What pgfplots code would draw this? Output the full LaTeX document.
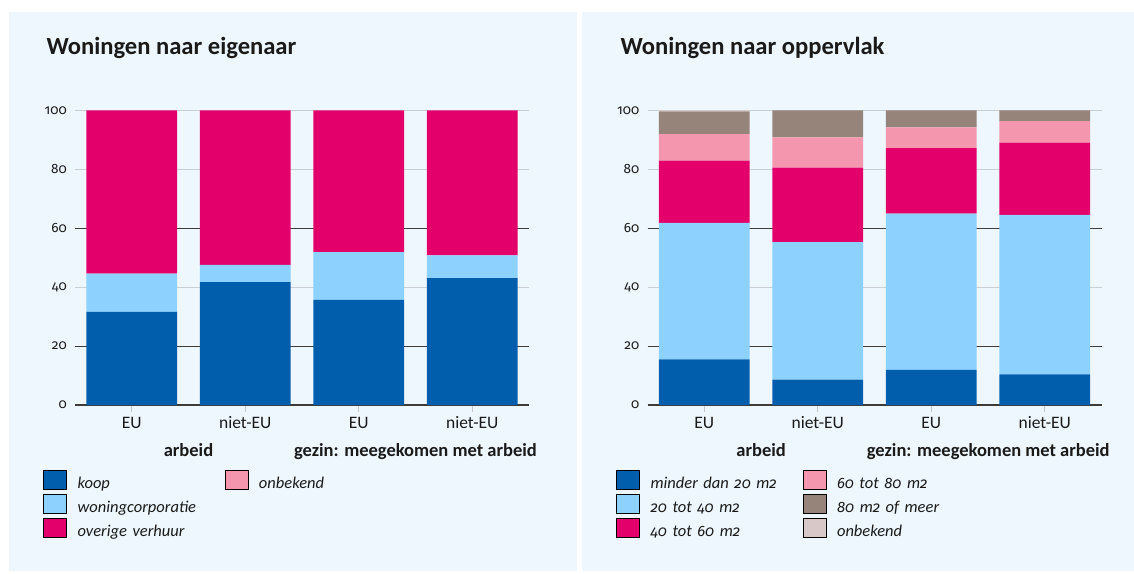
\documentclass[border=0pt]{standalone}
\usepackage{fontspec}
\setmainfont{Carlito}
\newfontfamily\numfont{Fira Sans}[Numbers=OldStyle]
\newcommand{\on}[1]{{\numfont\fontsize{15}{19}\selectfont #1}}
\usepackage{pgfplots}
\pgfplotsset{compat=1.18}
\definecolor{cKoop}{HTML}{005EAD}
\definecolor{cCorp}{HTML}{8DD1FE}
\definecolor{cOver}{HTML}{E4006B}
\definecolor{cOnb}{HTML}{F497AE}
\definecolor{cBrown}{HTML}{968379}
\definecolor{cOnbR}{HTML}{D8C9C8}
\definecolor{bgc}{HTML}{EEF7FE}
\definecolor{txt}{HTML}{1A1A1A}
\definecolor{gridL}{HTML}{C9CFD5}
\definecolor{gridM}{HTML}{9A9EA2}
\definecolor{gridD}{HTML}{3C3C3C}

\pgfplotsset{
  panel/.style={
    scale only axis, width=454pt, height=294.5pt,
    anchor=south west,
    ybar stacked, bar width=0.8,
    xmin=-0.5, xmax=3.5, ymin=0, ymax=100,
    enlargelimits=false,
    xtick={0,1,2,3},
    xticklabels={EU,niet-EU,EU,niet-EU},
    ytick={0,20,40,60,80,100},
    yticklabels={0,20,40,60,80,100},
    minor ytick={100},
    axis x line*=bottom,
    axis y line*=left,
    y axis line style={draw=none},
    x axis line style={draw=gridD, line width=1.3pt, -},
    ymajorgrids, yminorgrids,
    grid style={draw=gridL, line width=1.2pt},
    minor grid style={draw=gridM, line width=1.1pt},
    extra y ticks={20,60},
    extra y tick labels={},
    extra y tick style={grid style={draw=gridD, line width=0.9pt}},
    tick align=outside,
    xtick pos=bottom,
    major tick length=7pt,
    minor tick length=0pt,
    xtick style={draw=gray!45, line width=0.9pt},
    ytick style={draw=none},
    /pgf/number format/assume math mode=true,
    xticklabel style={font=\fontsize{17.5}{20}\selectfont, text=txt, anchor=base, inner sep=0pt, yshift=-16pt},
    yticklabel style={font=\numfont\fontsize{13.5}{16}\selectfont, text=txt, anchor=east, inner sep=0pt, xshift=-1pt},
    legend columns=2,
    legend cell align=left,
    legend image code/.code={\fill[##1] (0pt,-4.5pt) rectangle (23pt,14.5pt);},
    legend style={draw=none, fill=none, inner sep=0pt, row sep=1pt, column sep=11pt,
      anchor=north west,
      nodes={inner sep=0pt, text height=12pt, text depth=4pt, text=txt,
        font=\itshape\fontsize{16.5}{19}\selectfont}},
  },
}

\begin{document}
\begin{tikzpicture}
\fill[white] (0pt,0pt) rectangle (1134pt,573pt);
\fill[bgc] (9pt,2pt) rectangle (577pt,561pt);
\fill[bgc] (582pt,2pt) rectangle (1134pt,561pt);

\node[anchor=base west, text=txt, font=\bfseries\fontsize{24.6}{28}\selectfont] at (43pt,518pt) {Woningen naar eigenaar};
\node[anchor=base west, text=txt, font=\bfseries\fontsize{24.6}{28}\selectfont] at (617pt,518pt) {Woningen naar oppervlak};

% left panel
\begin{axis}[panel, at={(75pt,168pt)},
  legend style={at={(-0.0705,-0.2207)}, nodes={text width=136pt}}]
\addplot[fill=cKoop, draw=none, forget plot] coordinates {(0,31.6) (1,41.7) (2,35.7) (3,43.1)};
\addplot[fill=cCorp, draw=none, forget plot] coordinates {(0,13.0) (1,5.9) (2,16.2) (3,7.7)};
\addplot[fill=cOver, draw=none, forget plot] coordinates {(0,55.4) (1,52.4) (2,48.1) (3,49.2)};
\addplot[fill=cOnb, draw=none, forget plot] coordinates {(0,0) (1,0) (2,0) (3,0)};
\addlegendimage{fill=cKoop}\addlegendentry{koop}
\addlegendimage{fill=cOnb}\addlegendentry{onbekend}
\addlegendimage{fill=cCorp}\addlegendentry{woningcorporatie}
\addlegendimage{empty legend}\addlegendentry{}
\addlegendimage{fill=cOver}\addlegendentry{overige verhuur}
\end{axis}

% right panel
\begin{axis}[panel, at={(647.5pt,168pt)},
  legend style={at={(-0.0693,-0.2207)}, nodes={text width=141pt}}]
\addplot[fill=cKoop, draw=none, forget plot] coordinates {(0,15.5) (1,8.6) (2,11.9) (3,10.4)};
\addplot[fill=cCorp, draw=none, forget plot] coordinates {(0,46.3) (1,46.7) (2,53.1) (3,54.2)};
\addplot[fill=cOver, draw=none, forget plot] coordinates {(0,21.2) (1,25.3) (2,22.2) (3,24.5)};
\addplot[fill=cOnb, draw=none, forget plot] coordinates {(0,9.0) (1,10.3) (2,7.1) (3,7.3)};
\addplot[fill=cBrown, draw=none, forget plot] coordinates {(0,7.7) (1,9.1) (2,5.7) (3,3.6)};
\addplot[fill=cOnbR, draw=none, forget plot] coordinates {(0,0.3) (1,0) (2,0) (3,0)};
\addlegendimage{fill=cKoop}\addlegendentry{minder dan \on{\itshape 20} m\on{\itshape 2}}
\addlegendimage{fill=cOnb}\addlegendentry{\on{\itshape 60} tot \on{\itshape 80} m\on{\itshape 2}}
\addlegendimage{fill=cCorp}\addlegendentry{\on{\itshape 20} tot \on{\itshape 40} m\on{\itshape 2}}
\addlegendimage{fill=cBrown}\addlegendentry{\on{\itshape 80} m\on{\itshape 2} of meer}
\addlegendimage{fill=cOver}\addlegendentry{\on{\itshape 40} tot \on{\itshape 60} m\on{\itshape 2}}
\addlegendimage{fill=cOnbR}\addlegendentry{onbekend}
\end{axis}

\node[anchor=base, text=txt, font=\bfseries\fontsize{18.5}{22}\selectfont] at (188.5pt,117pt) {arbeid};
\node[anchor=base, text=txt, font=\bfseries\fontsize{18.5}{22}\selectfont] at (415.5pt,117pt) {gezin: meegekomen met arbeid};
\node[anchor=base, text=txt, font=\bfseries\fontsize{18.5}{22}\selectfont] at (761.1pt,117pt) {arbeid};
\node[anchor=base, text=txt, font=\bfseries\fontsize{18.5}{22}\selectfont] at (988.3pt,117pt) {gezin: meegekomen met arbeid};
\end{tikzpicture}
\end{document}
